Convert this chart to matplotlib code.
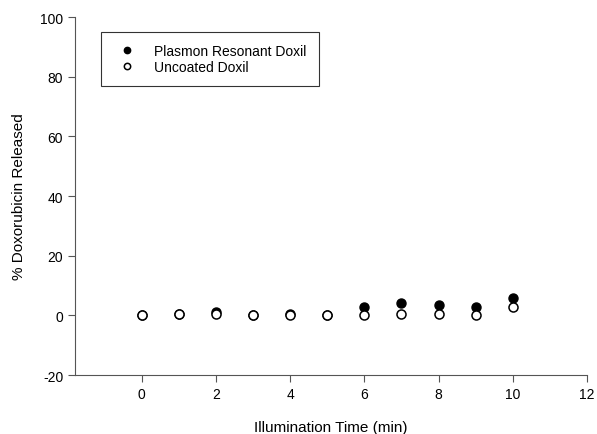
import matplotlib.pyplot as plt

plt.rcParams['font.family'] = ['Liberation Sans', 'DejaVu Sans']
plt.rcParams['axes.unicode_minus'] = False

# data
time_min = [0, 1, 2, 3, 4, 5, 6, 7, 8, 9, 10]
plasmon_doxil = [0.2, 0.5, 1.2, 0.1, 0.4, 0.1, 2.7, 4.1, 3.4, 2.9, 5.8]
uncoated_doxil = [0.1, 0.3, 0.6, 0.1, 0.2, 0.1, 0.0, 0.6, 0.5, 0.0, 2.7]

fig = plt.figure(figsize=(5.97, 4.35), dpi=100)
ax = fig.add_axes([0.1256, 0.1356, 0.8576, 0.823])

ax.plot(time_min, plasmon_doxil, 'o', color='black', ms=6.5, label='Plasmon Resonant Doxil')
ax.plot(time_min, uncoated_doxil, 'o', mfc='white', mec='black', mew=1.1, ms=6.5,
        label='Uncoated Doxil')

ax.set_xlim(-1.8, 12)
ax.set_ylim(-20, 100)
ax.set_xticks(range(0, 13, 2))
ax.set_yticks(range(-20, 101, 20))

for side in ['top', 'right']:
    ax.spines[side].set_visible(False)
for side in ['left', 'bottom']:
    ax.spines[side].set_color('#555555')
ax.tick_params(direction='out', length=5, color='#555555', labelsize=10)

ax.set_xlabel('Illumination Time (min)', fontsize=11, labelpad=14)
ax.set_ylabel('% Doxorubicin Released', fontsize=11, labelpad=10)

leg = ax.legend(loc='upper left', bbox_to_anchor=(0.051, 0.959), fontsize=10,
                markerscale=0.7, handletextpad=0.9, labelspacing=0.1,
                borderpad=0.9, borderaxespad=0, fancybox=False, frameon=True,
                handlelength=2.0)
leg.get_frame().set_edgecolor('black')
leg.get_frame().set_linewidth(0.8)

fig.savefig('out.png', dpi=100)
